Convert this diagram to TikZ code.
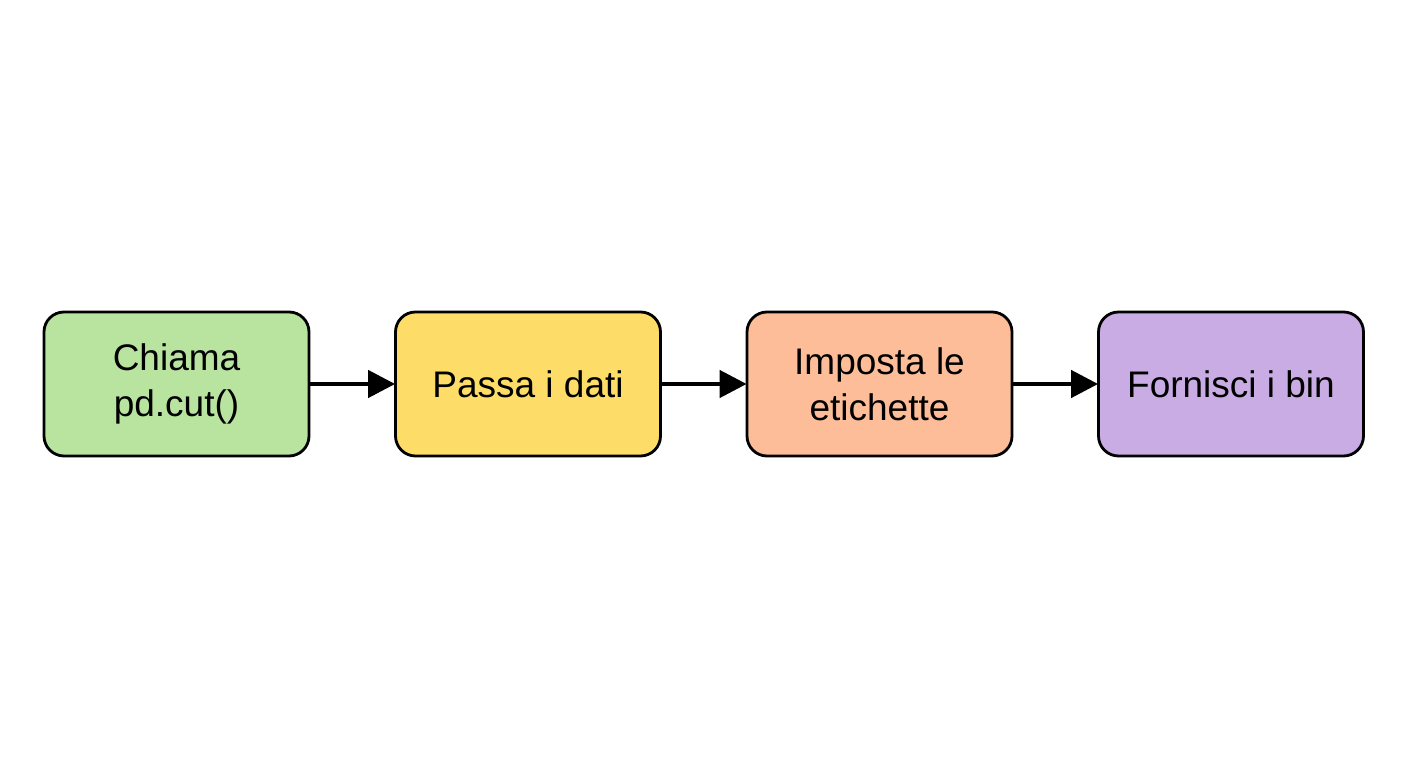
\documentclass[tikz,border=0pt]{standalone}
\usepackage{fontspec}
\setmainfont{Liberation Sans}
\usetikzlibrary{arrows.meta}
\definecolor{cgreen}{HTML}{B9E4A0}
\definecolor{cyellow}{HTML}{FDDC68}
\definecolor{corange}{HTML}{FDBD98}
\definecolor{cpurple}{HTML}{C9ACE3}
\begin{document}
\begin{tikzpicture}[x=1pt,y=1pt,
  boxstyle/.style={draw=black, line width=2.8pt, rounded corners=20pt,
    minimum width=265pt, minimum height=144pt, align=center,
    font=\fontsize{37}{46}\selectfont, inner sep=0pt},
  arrowstyle/.style={line width=4.5pt, -{Triangle[length=27pt,width=27pt]}, shorten >=-1pt}]
\fill[white] (0,0) rectangle (1408,768);
\useasboundingbox (0,0) rectangle (1408,768);
\node[boxstyle, fill=cgreen] (a) at (176.5,384) {Chiama\\pd.cut()};
\node[boxstyle, fill=cyellow] (b) at (528,384) {Passa i dati};
\node[boxstyle, fill=corange] (c) at (879.5,384) {Imposta le\\etichette};
\node[boxstyle, fill=cpurple] (d) at (1231,384) {Fornisci i bin};
\draw[arrowstyle] (a) -- (b);
\draw[arrowstyle] (b) -- (c);
\draw[arrowstyle] (c) -- (d);
\end{tikzpicture}
\end{document}
